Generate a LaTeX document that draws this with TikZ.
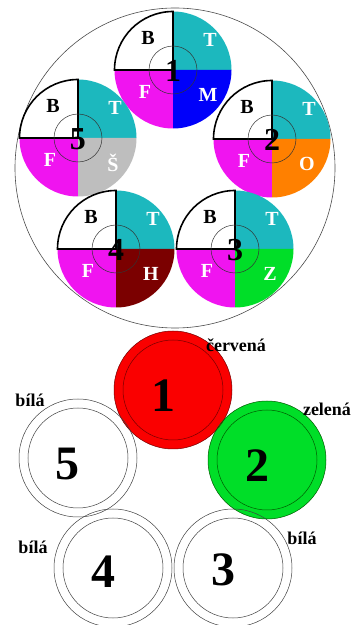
\documentclass[tikz,border=0pt]{standalone}
\usepackage{fontspec}
\setmainfont{Liberation Serif}
\usepackage{tikz}
\usetikzlibrary{positioning,calc}
\definecolor{tyrkys}{RGB}{28,184,190}
\definecolor{fialova}{RGB}{240,20,240}
\definecolor{modra}{RGB}{0,0,250}
\definecolor{oranzova}{RGB}{255,128,0}
\definecolor{hneda}{RGB}{123,0,0}
\definecolor{zelena}{RGB}{0,222,40}
\definecolor{seda}{RGB}{190,190,190}
\definecolor{cervena}{RGB}{250,0,0}
\tikzset{
  pismeno/.style={font=\bfseries\fontsize{20}{20}\selectfont, inner sep=0pt},
  cislo/.style={font=\bfseries\fontsize{32}{32}\selectfont, inner sep=0pt},
  velkecislo/.style={font=\bfseries\fontsize{48}{48}\selectfont, inner sep=0pt},
  popis/.style={font=\bfseries\fontsize{18}{18}\selectfont, inner sep=0pt},
  obrys/.style={line width=1.6pt, black},
  stred/.style={draw=black!80, line width=0.5pt},
  krouzek/.style={draw=black!75, line width=0.5pt},
}
% jedna zila: jmeno, poloha, barva, pismeno, cislo
\newcommand{\zila}[5]{%
  \coordinate (#1) at (#2);
  \fill[white] (#1) -- ++(-58.5pt,0) arc[start angle=180,end angle=90,radius=58.5pt] -- cycle;
  \fill[tyrkys] (#1) -- ++(0,58.5pt) arc[start angle=90,end angle=0,radius=58.5pt] -- cycle;
  \fill[fialova] (#1) -- ++(-58.5pt,0) arc[start angle=180,end angle=270,radius=58.5pt] -- cycle;
  \fill[#3] (#1) -- ++(0,-58.5pt) arc[start angle=270,end angle=360,radius=58.5pt] -- cycle;
  \draw[obrys] (#1) -- ++(-58.5pt,0) arc[start angle=180,end angle=90,radius=58.5pt] -- cycle;
  \draw[stred] (#1) circle[radius=24pt];
  \node[pismeno] (#1B) at ($(#1)+(-25,32)$) {B};
  \node[pismeno, text=white] (#1T) at ($(#1)+(37,30)$) {T};
  \node[pismeno, text=white] (#1F) at ($(#1)+(-28,-22)$) {F};
  \node[pismeno, text=white] (#1X) at ($(#1)+(35,-25)$) {#4};
  \node[cislo] (#1n) at ($(#1)+(0,-1)$) {#5};
}

\begin{document}
\begin{tikzpicture}[x=1pt,y=1pt]
  \useasboundingbox (0,0) rectangle (356,625);
  % kabel v rezu
  \draw[black!70, line width=0.6pt] (175,457) circle[radius=160pt];
  \zila{z1}{173,555}{modra}{M}{1}
  \zila{z5}{78,487}{seda}{Š}{5}
  \zila{z2}{272,486}{oranzova}{O}{2}
  \zila{z4}{116,376}{hneda}{H}{4}
  \zila{z3}{235,376}{zelena}{Z}{3}
  % barvy izolace
  \coordinate (k1) at (173,235);
  \coordinate (k2) at (267,165);
  \coordinate (k5) at (78,167);
  \coordinate (k4) at (113,57);
  \coordinate (k3) at (233,57);
  \fill[cervena] (k1) circle[radius=59pt];
  \fill[zelena] (k2) circle[radius=59pt];
  \draw[krouzek, draw=red!45!black] (k1) circle[radius=59pt] (k1) circle[radius=50pt];
  \draw[krouzek, draw=green!35!black] (k2) circle[radius=59pt] (k2) circle[radius=50pt];
  \draw[krouzek] (k5) circle[radius=59pt] (k5) circle[radius=50pt];
  \draw[krouzek] (k4) circle[radius=59pt] (k4) circle[radius=50pt];
  \draw[krouzek] (k3) circle[radius=59pt] (k3) circle[radius=50pt];
  \node[velkecislo] (c1) at ($(k1)+(-10,-6)$) {1};
  \node[velkecislo] (c2) at ($(k2)+(-10,-6)$) {2};
  \node[velkecislo] (c5) at ($(k5)+(-10,-6)$) {5};
  \node[velkecislo] (c4) at ($(k4)+(-10,-4)$) {4};
  \node[velkecislo] (c3) at ($(k3)+(-10,-2)$) {3};
  \node[popis] (p1) at (236,280) {červená};
  \node[popis] (p2) at (327,216) {zelená};
  \node[popis] (p5) at (30,225) {bílá};
  \node[popis] (p4) at (33,78) {bílá};
  \node[popis] (p3) at (302,87) {bílá};
\end{tikzpicture}
\end{document}
